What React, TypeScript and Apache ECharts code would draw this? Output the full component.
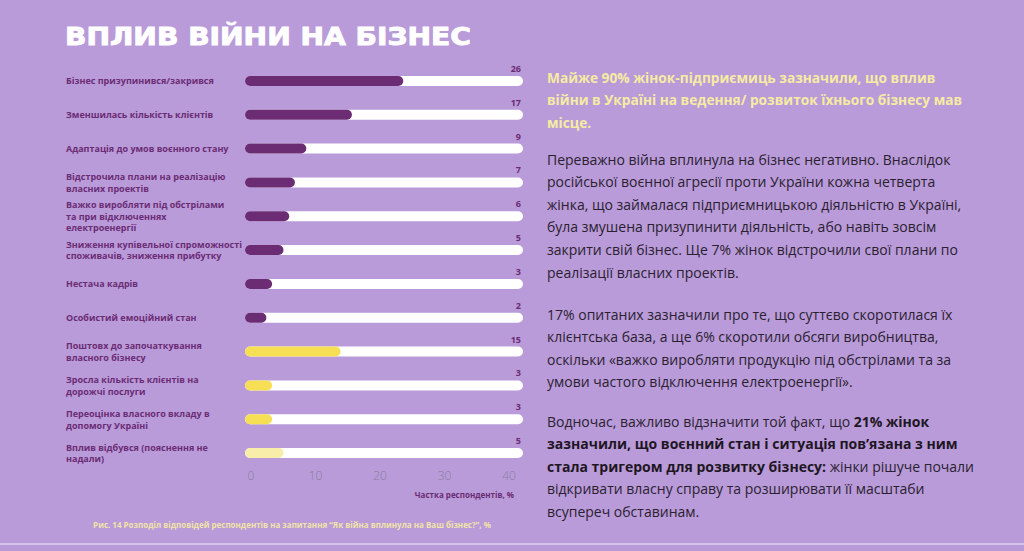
import React, { useEffect, useRef } from "react";
import * as echarts from "echarts";

const categories = [
  "Бізнес призупинився/закрився",
  "Зменшилась кількість клієнтів",
  "Адаптація до умов воєнного стану",
  "Відстрочила плани на реалізацію\nвласних проектів",
  "Важко виробляти під обстрілами\nта при відключеннях\nелектроенергії",
  "Зниження купівельної спроможності\nспоживачів, зниження прибутку",
  "Нестача кадрів",
  "Особистий емоційний стан",
  "Поштовх до започаткування\nвласного бізнесу",
  "Зросла кількість клієнтів на\nдорожчі послуги",
  "Переоцінка власного вкладу в\nдопомогу Україні",
  "Вплив відбувся (пояснення не\nнадали)",
];
const values = [26, 17, 9, 7, 6, 5, 3, 2, 15, 3, 3, 5];
const groups = [
  "negative", "negative", "negative", "negative", "negative", "negative",
  "negative", "negative", "positive", "positive", "positive", "unspecified",
];
const axisTicks = [0, 10, 20, 30, 40];

const title = "ВПЛИВ ВІЙНИ НА БІЗНЕС";
const axisTitle = "Частка респондентів, %";
const caption =
  "Рис. 14 Розподіл відповідей респондентів на запитання “Як війна вплинула на Ваш бізнес?”, %";
const headingLines = [
  "Майже 90% жінок-підприємиць зазначили, що вплив",
  "війни в Україні на ведення/ розвиток їхнього бізнесу мав",
  "місце.",
];
const para1 = [
  "Переважно війна вплинула на бізнес негативно. Внаслідок",
  "російської воєнної агресії проти України кожна четверта",
  "жінка, що займалася підприємницькою діяльністю в Україні,",
  "була змушена призупинити діяльність, або навіть зовсім",
  "закрити свій бізнес. Ще 7% жінок відстрочили свої плани по",
  "реалізації власних проектів.",
];
const para2 = [
  "17% опитаних зазначили про те, що суттєво скоротилася їх",
  "клієнтська база, а ще 6% скоротили обсяги виробництва,",
  "оскільки «важко виробляти продукцію під обстрілами та за",
  "умови частого відключення електроенергії».",
];
const para3 = [
  "{n|Водночас, важливо відзначити той факт, що }{b|21% жінок}",
  "{b|зазначили, що воєнний стан і ситуація пов’язана з ним}",
  "{b|стала тригером для розвитку бізнесу:}{n| жінки рішуче почали}",
  "{n|відкривати власну справу та розширювати її масштаби}",
  "{n|всупереч обставинам.}",
];

const groupColors: Record<string, string> = {
  negative: "#6b2c74",
  positive: "#f6df55",
  unspecified: "#f8eeaa",
};

export default function App() {
  const ref = useRef<HTMLDivElement>(null);
  useEffect(() => {
    if (!ref.current) return;
    const chart = echarts.init(ref.current, undefined, { renderer: "svg" });
    const font = "'Open Sans', 'Noto Sans', sans-serif";
    const titleFont = "bold 24px 'DejaVu Sans', sans-serif";
    let titleScale = 1.2;
    try {
      const ctx = document.createElement("canvas").getContext("2d");
      if (ctx) {
        ctx.font = titleFont;
        const w = ctx.measureText(title).width;
        if (w > 0) titleScale = 406 / w;
      }
    } catch (e) {}
    const textX = 547;
    const lineH = 22.6;

    const graphics: any[] = [];
    graphics.push({
      type: "text",
      x: 65,
      y: 37,
      scaleX: titleScale,
      style: {
        text: title,
        fill: "#ffffff",
        stroke: "#ffffff",
        lineWidth: 0.9,
        font: titleFont,
        verticalAlign: "middle",
      },
    });
    headingLines.forEach((t, i) =>
      graphics.push({
        type: "text",
        x: textX,
        y: 77 + i * lineH,
        style: { text: t, fill: "#f6eba3", font: `700 13.7px ${font}`, verticalAlign: "middle" },
      })
    );
    para1.forEach((t, i) =>
      graphics.push({
        type: "text",
        x: textX,
        y: 159 + i * lineH,
        style: { text: t, fill: "#2a2130", font: `400 14px ${font}`, verticalAlign: "middle" },
      })
    );
    para2.forEach((t, i) =>
      graphics.push({
        type: "text",
        x: textX,
        y: 314 + i * lineH,
        style: { text: t, fill: "#2a2130", font: `400 14px ${font}`, verticalAlign: "middle" },
      })
    );
    para3.forEach((t, i) =>
      graphics.push({
        type: "text",
        x: textX,
        y: 421 + i * lineH,
        style: {
          text: t,
          verticalAlign: "middle",
          rich: {
            n: { fill: "#2a2130", fontFamily: font, fontSize: 14, fontWeight: 400 },
            b: { fill: "#1f1624", fontFamily: font, fontSize: 14, fontWeight: 700 },
          },
        },
      })
    );
    graphics.push({
      type: "text",
      x: 514,
      y: 494,
      style: {
        text: axisTitle,
        fill: "#6b2c74",
        font: `700 8px ${font}`,
        align: "right",
        verticalAlign: "middle",
      },
    });
    graphics.push({
      type: "text",
      x: 292,
      y: 524,
      style: {
        text: caption,
        fill: "#f1e3a8",
        font: `700 8px ${font}`,
        align: "center",
        verticalAlign: "middle",
      },
    });
    graphics.push({
      type: "line",
      shape: { x1: 0, y1: 544, x2: 1024, y2: 544 },
      style: { stroke: "#ddd0ef", lineWidth: 1.5 },
    });

    const barH = 10;
    const cap = 5;

    chart.setOption({
      animation: false,
      backgroundColor: "#b99bd9",
      graphic: graphics,
      grid: [
        { left: 250, right: 1024 - 518, top: 64, bottom: 551 - 470 },
        { left: 251, right: 1024 - 509, top: 64, bottom: 551 - 466 },
      ],
      xAxis: [
        { gridIndex: 0, type: "value", min: 0, max: 47, show: false },
        {
          gridIndex: 1,
          type: "value",
          min: axisTicks[0],
          max: axisTicks[axisTicks.length - 1],
          interval: 10,
          axisLine: { show: false },
          axisTick: { show: false },
          splitLine: { show: false },
          axisLabel: {
            margin: 3,
            color: "#887d9c",
            fontFamily: font,
            fontSize: 12,
            fontWeight: 300,
          },
        },
      ],
      yAxis: [
        {
          gridIndex: 0,
          type: "category",
          data: categories,
          inverse: true,
          axisLine: { show: false },
          axisTick: { show: false },
          axisLabel: {
            align: "left",
            margin: 250 - 66,
            color: "#6b2c74",
            fontFamily: font,
            fontSize: 9,
            fontWeight: 700,
            lineHeight: 11.5,
          },
        },
        {
          gridIndex: 0,
          type: "category",
          data: categories,
          inverse: true,
          position: "right",
          axisLine: { show: false },
          axisTick: { show: false },
          axisLabel: {
            align: "right",
            margin: 3,
            verticalAlign: "bottom",
            padding: [0, 0, 8, 0],
            color: "#6b2c74",
            fontFamily: font,
            fontSize: 9,
            fontWeight: 700,
            formatter: (_v: string, i: number) => String(values[i]),
          },
        },
        { gridIndex: 1, type: "category", data: categories, show: false },
      ],
      series: [
        {
          type: "custom",
          xAxisIndex: 0,
          yAxisIndex: 0,
          encode: { x: 0, y: 1 },
          data: values.map((v, i) => [v, i]),
          renderItem: (params: any, api: any) => {
            const idx = api.value(1);
            const start = api.coord([0, idx]);
            const end = api.coord([api.value(0), idx]);
            const cs = params.coordSys;
            const color = groupColors[groups[params.dataIndex]];
            return {
              type: "group",
              children: [
                {
                  type: "rect",
                  shape: {
                    x: cs.x - cap,
                    y: start[1] - barH / 2,
                    width: cs.width + cap * 2,
                    height: barH,
                    r: barH / 2,
                  },
                  style: { fill: "#ffffff" },
                },
                {
                  type: "rect",
                  shape: {
                    x: start[0] - cap,
                    y: start[1] - barH / 2,
                    width: end[0] - start[0] + cap * 2,
                    height: barH,
                    r: barH / 2,
                  },
                  style: { fill: color },
                },
              ],
            };
          },
        },
        {
          type: "scatter",
          xAxisIndex: 1,
          yAxisIndex: 2,
          data: [],
          silent: true,
        },
      ],
    });
    return () => chart.dispose();
  }, []);
  return (
    <div
      ref={ref}
      style={{ position: "absolute", left: 0, top: 0, width: 1024, height: 551 }}
    />
  );
}
